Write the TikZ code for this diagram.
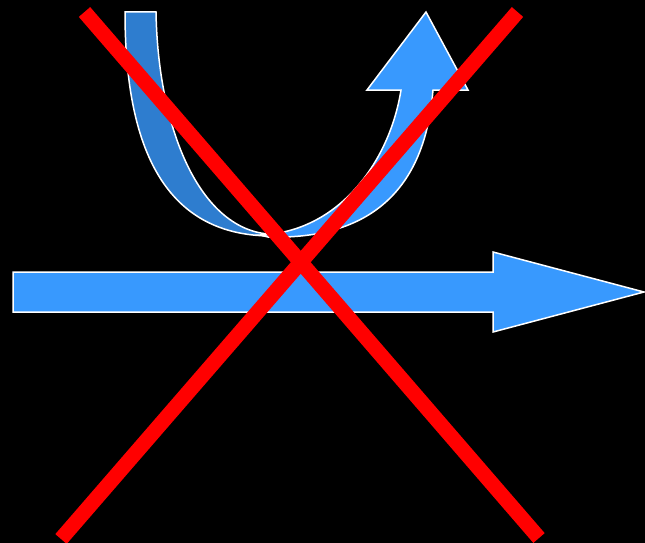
\documentclass[tikz,border=0pt]{standalone}
\definecolor{darkband}{HTML}{2E7DCF}
\definecolor{lightband}{HTML}{3899FE}
\definecolor{crossred}{HTML}{FF0000}
\tikzset{
  bandback/.style={fill=darkband,draw=white,line width=1.5pt,line join=miter},
  bandfront/.style={fill=lightband,draw=white,line width=1.5pt,line join=miter},
  crossline/.style={draw=crossred,line width=15pt,line cap=butt}
}
\begin{document}
\begin{tikzpicture}[x=1pt,y=-1pt]
\fill[black] (0,0) rectangle (645,543);
\useasboundingbox (0,0) rectangle (645,543);
% straight arrow
\path[bandfront] (13,272) -- (493,272) -- (493,252) -- (644,292) -- (493,332) -- (493,312) -- (13,312) -- cycle;
% curved arrow: back band
\path[bandback] (125,12) -- (156,12) .. controls (158,130) and (200,228) .. (268,234)
  -- (272,236) .. controls (160,236) and (125,140) .. (125,12) -- cycle;
% curved arrow: front band with head
\path[bandfront] (260,235) .. controls (340,232) and (390,160) .. (401,90)
  -- (367,90) -- (426,12) -- (468,90) -- (433,90)
  .. controls (425,190) and (370,240) .. (268,237) -- cycle;
% red cross
\coordinate (a1) at (84.5,12);
\coordinate (a2) at (539,538);
\coordinate (b1) at (517.5,12);
\coordinate (b2) at (61,539);
\draw[crossline] (a1) -- (a2);
\draw[crossline] (b1) -- (b2);
\end{tikzpicture}
\end{document}
